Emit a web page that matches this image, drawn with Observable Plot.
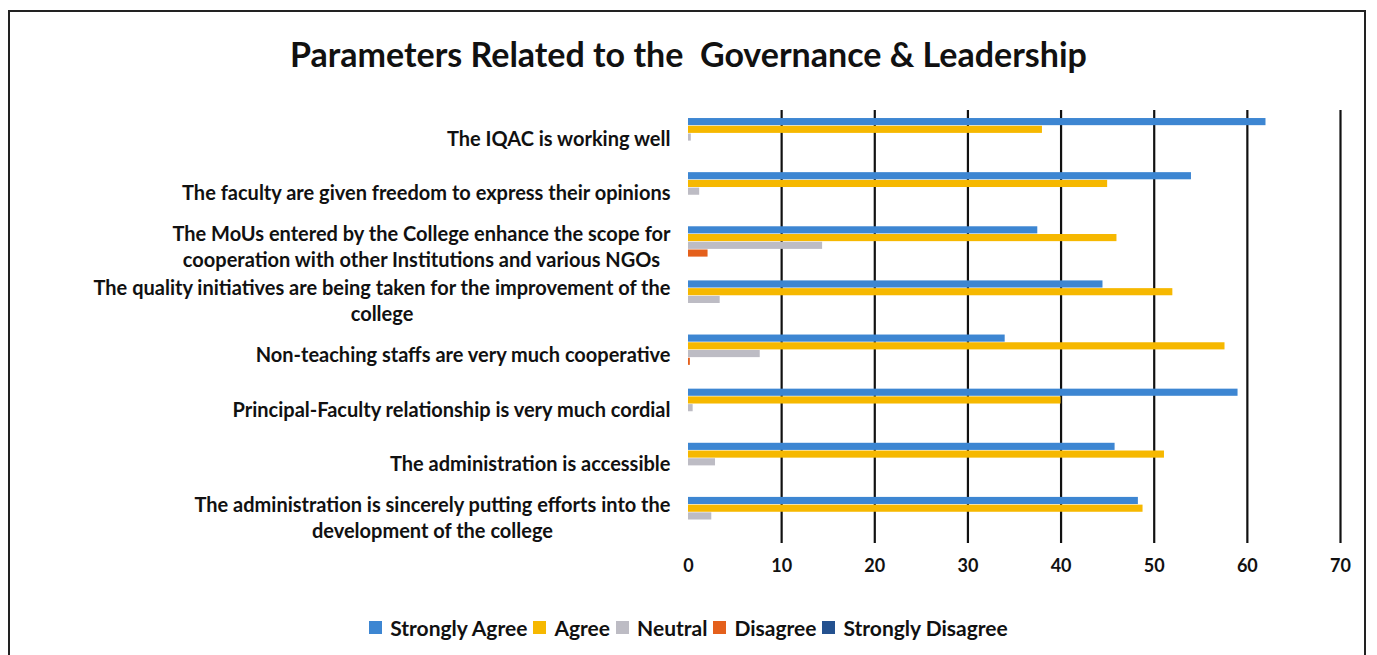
<!DOCTYPE html>
<html>
<head>
<meta charset="utf-8">
<script src="https://cdn.jsdelivr.net/npm/d3@7"></script>
<script src="https://cdn.jsdelivr.net/npm/@observablehq/plot@0.6"></script>
<style>
  html, body { margin: 0; padding: 0; background: #fff; width: 1377px; height: 655px; overflow: hidden; }
  body { font-family: Lato, "Open Sans", sans-serif; position: relative; }
  #frame { position: absolute; left: 8px; top: 10px; width: 1358px; height: 650px; border: 2px solid #222; box-sizing: border-box; }
  #title { position: absolute; left: 0; top: 33px; width: 1377px; text-align: center; font-size: 34px; font-weight: 700; color: #111; }
  #chart { position: absolute; left: 0; top: 95px; }
  #legend { position: absolute; left: 0; top: 613px; width: 1377px; text-align: center; font-size: 21px; font-weight: 700; color: #111; }
  #legend span.item { display: inline-flex; align-items: center; margin: 0 3px; }
  #legend span.sw { display: inline-block; width: 13px; height: 13px; margin-right: 8px; }
</style>
</head>
<body>
<div id="frame"></div>
<div id="title">Parameters Related to the&nbsp; Governance &amp; Leadership</div>
<div id="chart"></div>
<div id="legend"></div>
<script>
const categories = [
  "The IQAC is working well",
  "The faculty are given freedom to express their opinions",
  "The MoUs entered by the College enhance the scope for\ncooperation with other Institutions and various NGOs",
  "The quality initiatives are being taken for the improvement of the\ncollege",
  "Non-teaching staffs are very much cooperative",
  "Principal-Faculty relationship is very much cordial",
  "The administration is accessible",
  "The administration is sincerely putting efforts into the\ndevelopment of the college"
];
const seriesNames = ["Strongly Agree", "Agree", "Neutral", "Disagree", "Strongly Disagree"];
const seriesColors = ["#3d86d2", "#f6b800", "#bdbcc4", "#e4601c", "#24518f"];
const stronglyAgree = [62, 54, 37.5, 44.5, 34, 59, 45.8, 48.3];
const agree = [38, 45, 46, 52, 57.6, 40, 51.1, 48.8];
const neutral = [0.3, 1.2, 14.4, 3.4, 7.7, 0.5, 2.9, 2.5];
const disagree = [0, 0, 2.1, 0, 0.2, 0, 0, 0];
const stronglyDisagree = [0, 0, 0, 0, 0, 0, 0, 0];
const xTicks = [0, 10, 20, 30, 40, 50, 60, 70];

const seriesValues = [stronglyAgree, agree, neutral, disagree, stronglyDisagree];
const data = [];
categories.forEach((c, i) => {
  seriesNames.forEach((s, j) => {
    data.push({key: `${i}|${s}`, series: s, value: seriesValues[j][i]});
  });
});
const yDomain = [];
categories.forEach((c, i) => {
  yDomain.push(`${i}|padA`);
  seriesNames.forEach(s => yDomain.push(`${i}|${s}`));
  yDomain.push(`${i}|padB`);
});

const chart = Plot.plot({
  width: 1377,
  height: 478,
  marginLeft: 688,
  marginRight: 37,
  marginTop: 15,
  marginBottom: 30,
  style: {fontFamily: "Lato, 'Open Sans', sans-serif", fontWeight: 700, color: "#111", background: "transparent", overflow: "visible"},
  x: {domain: [0, 70], ticks: xTicks, label: null},
  y: {domain: yDomain, type: "band", padding: 0, label: null},
  color: {domain: seriesNames, range: seriesColors},
  marks: [
    Plot.ruleX(xTicks.filter(d => d > 0), {stroke: "#111", strokeWidth: 2.2}),
    Plot.barX(data, {x: "value", y: "key", fill: "series", insetTop: 0.3, insetBottom: 0.3}),
    Plot.axisX({ticks: xTicks, tickSize: 0, tickPadding: 16, fontSize: 18, fontWeight: 700, label: null}),
    Plot.axisY({ticks: categories.map((c, i) => `${i}|Neutral`), tickFormat: k => categories[+k.split("|")[0]], tickSize: 0, tickPadding: 18, fontSize: 20, fontWeight: 700, lineAnchor: "middle", lineHeight: 1.3, label: null})
  ]
});
document.getElementById("chart").appendChild(chart);

// center the lines of multi-line y labels within their block (right-aligned block)
chart.querySelectorAll("g[aria-label='y-axis tick label'] text").forEach(t => {
  const spans = t.querySelectorAll("tspan");
  if (spans.length > 1) {
    let maxW = 0;
    spans.forEach(s => { maxW = Math.max(maxW, s.getComputedTextLength()); });
    const baseX = +(t.getAttribute("x") || 0);
    t.setAttribute("text-anchor", "middle");
    spans.forEach(s => s.setAttribute("x", baseX - maxW / 2));
  }
});

const legend = document.getElementById("legend");
seriesNames.forEach((s, i) => {
  const item = document.createElement("span");
  item.className = "item";
  const sw = document.createElement("span");
  sw.className = "sw";
  sw.style.background = seriesColors[i];
  item.appendChild(sw);
  item.appendChild(document.createTextNode(s));
  legend.appendChild(item);
});
</script>
</body>
</html>
